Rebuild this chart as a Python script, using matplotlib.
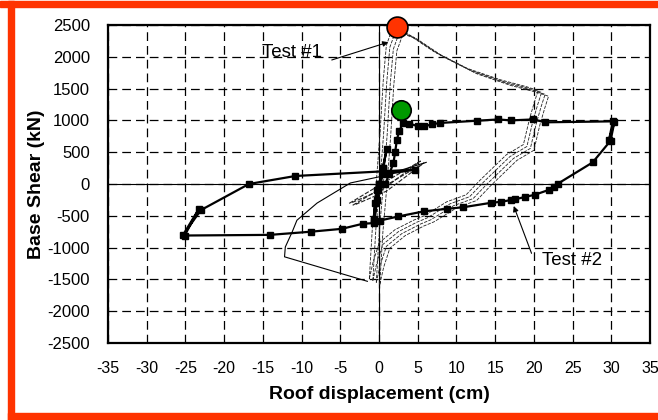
import matplotlib
matplotlib.use("Agg")
import matplotlib.pyplot as plt
from matplotlib.patches import Rectangle
import numpy as np

plt.rcParams['font.family'] = ['Liberation Sans', 'DejaVu Sans']
plt.rcParams['axes.unicode_minus'] = False

# ---- data ----
xticks = list(range(-35, 40, 5))
yticks = list(range(-2500, 3000, 500))

# Test #2 (thick line, square markers)
t2_x = [0.0, 0.5, 1.0, 0.5, -0.3, -0.6, -0.1, 0.8, 1.3, 1.85, 2.1, 2.3, 2.6, 3.1,
        3.9, 5.0, 5.8, 6.9, 7.9, 12.7, 15.4, 17.0, 19.9, 21.5, 30.2, 29.7, 30.4, 29.9,
        27.6, 23.1, 22.6, 22.0, 20.1, 18.8, 17.6, 17.1, 15.8, 14.5, 10.9, 8.8, 5.8, 2.5,
        0.1, -0.7, -2.1, -4.8, -8.8, -14.1, -25.1, -23.3, -25.3, -23.0, -16.8, -10.8,
        4.7, 0.5, -0.5, -0.7, -0.3, 0.0]
t2_y = [0, 250, 550, 250, -250, -560, -100, 0, 150, 325, 510, 690, 830, 955,
        950, 910, 905, 940, 960, 995, 1015, 1000, 1015, 970, 985, 690, 975, 680,
        340, 5, -45, -90, -170, -205, -240, -250, -280, -295, -365, -390, -430, -510,
        -575, -615, -625, -705, -750, -800, -810, -400, -800, -410, 0, 126,
        226, 150, -300, -560, -100, 0]

# Test #1 (dashed loop, several traces)
t1_x = [-0.8, -0.4, 0.1, 0.6, 1.0, 1.4, 2.2, 4.0, 7.5, 11.8, 16.1, 19.5, 21.0, 20.5,
        19.9, 19.1, 16.9, 13.5, 11.7, 9.2, 6.2, 4.9, 2.5, 0.5, -0.3, -0.8]
t1_y = [-1520, -700, 0, 800, 1600, 2150, 2420, 2340, 2055, 1790, 1610, 1500, 1440, 1250,
        1000, 590, 430, 30, -200, -310, -535, -600, -750, -950, -1250, -1520]

# thin solid branch
thin_x = [-1.5, -12.2, -12.1, -11.2, -10.6, -8.0, -3.7, 0.1, 6.1]
thin_y = [-1530, -1145, -990, -750, -570, -300, 16, 115, 340]

# small dashed wedge near origin
wedge_x = [-3.4, 0.5, 5.8, 1.0, -3.0]
wedge_y = [-335, -50, 330, -110, -320]

# highlighted points
peak1 = (2.3, 2470)
peak2 = (2.9, 1160)

# annotation positions
label1_xy, arrow1_from, arrow1_to = (-11.2, 2060), (-6.1, 1950), (1.2, 2230)
label2_xy, arrow2_from, arrow2_to = (24.9, -1195), (19.7, -1090), (17.4, -346)

# ---- figure ----
fig = plt.figure(figsize=(6.58, 4.2), dpi=100)
ax = fig.add_axes([108/658, (420-343)/420, (650-108)/658, (343-25)/420])
ax.set_xlim(-35, 35)
ax.set_ylim(-2500, 2500)
ax.set_xticks(xticks)
ax.set_yticks(yticks)
ax.tick_params(axis='both', length=0)
ax.tick_params(axis='y', labelsize=12, pad=13)
ax.tick_params(axis='x', labelsize=11.5, pad=13)
ax.grid(True, color='black', linestyle=(0, (7, 4)), linewidth=0.9)
ax.set_axisbelow(True)
for s in ax.spines.values():
    s.set_linewidth(1.6)
    s.set_color('black')
ax.axhline(0, color='black', lw=0.8, zorder=1)
ax.axvline(0, color='black', lw=0.8, zorder=1)

# Test #1 dashed traces
offsets = [(-0.45, 30), (0.0, 0), (0.45, -30), (0.9, -60)]
for dx, dy in offsets:
    ax.plot(np.array(t1_x) + dx, np.array(t1_y) + dy, color='#222222', lw=0.6,
            linestyle=(0, (4, 1.5)), zorder=2)
for dx, dy in offsets[:2]:
    ax.plot(np.array(wedge_x) + dx, np.array(wedge_y) + dy, color='#222222',
            lw=0.8, linestyle=(0, (4, 1.5)), zorder=2)

ax.plot(thin_x, thin_y, color='black', lw=0.8, zorder=3)

# Test #2
ax.plot(t2_x, t2_y, color='black', lw=1.6, marker='s', markersize=4.2, zorder=4)

# highlighted circles
ax.plot(*peak1, marker='o', markersize=15, markerfacecolor='#FF3300',
        markeredgecolor='black', markeredgewidth=1.2, clip_on=False, zorder=6)
ax.plot(*peak2, marker='o', markersize=14, markerfacecolor='#009900',
        markeredgecolor='black', markeredgewidth=1.2, clip_on=False, zorder=6)

# annotations
ax.text(*label1_xy, 'Test #1', fontsize=13.5, ha='center', va='center')
ax.annotate('', xy=arrow1_to, xytext=arrow1_from,
            arrowprops=dict(arrowstyle='-|>', color='black', lw=0.8,
                            shrinkA=0, shrinkB=0, mutation_scale=8))
ax.text(*label2_xy, 'Test #2', fontsize=13.5, ha='center', va='center')
ax.annotate('', xy=arrow2_to, xytext=arrow2_from,
            arrowprops=dict(arrowstyle='-|>', color='black', lw=0.8,
                            shrinkA=0, shrinkB=0, mutation_scale=8))

ax.set_xlabel('Roof displacement (cm)', fontsize=14, fontweight='bold')
ax.set_ylabel('Base Shear (kN)', fontsize=14, fontweight='bold')
ax.xaxis.set_label_coords(0.5, -0.135)
ax.yaxis.set_label_coords(-0.117, 0.5)

# orange border
orange = '#FF3300'
fig.patches.append(Rectangle((0, 1 - 7/420), 1, 6/420, transform=fig.transFigure,
                             color=orange, zorder=10))
fig.patches.append(Rectangle((8/658, 0), 6/658, 1 - 1/420, transform=fig.transFigure,
                             color=orange, zorder=10))
fig.patches.append(Rectangle((8/658, 0), 1, 7/420, transform=fig.transFigure,
                             color=orange, zorder=10))

fig.savefig('out.png', dpi=100)
